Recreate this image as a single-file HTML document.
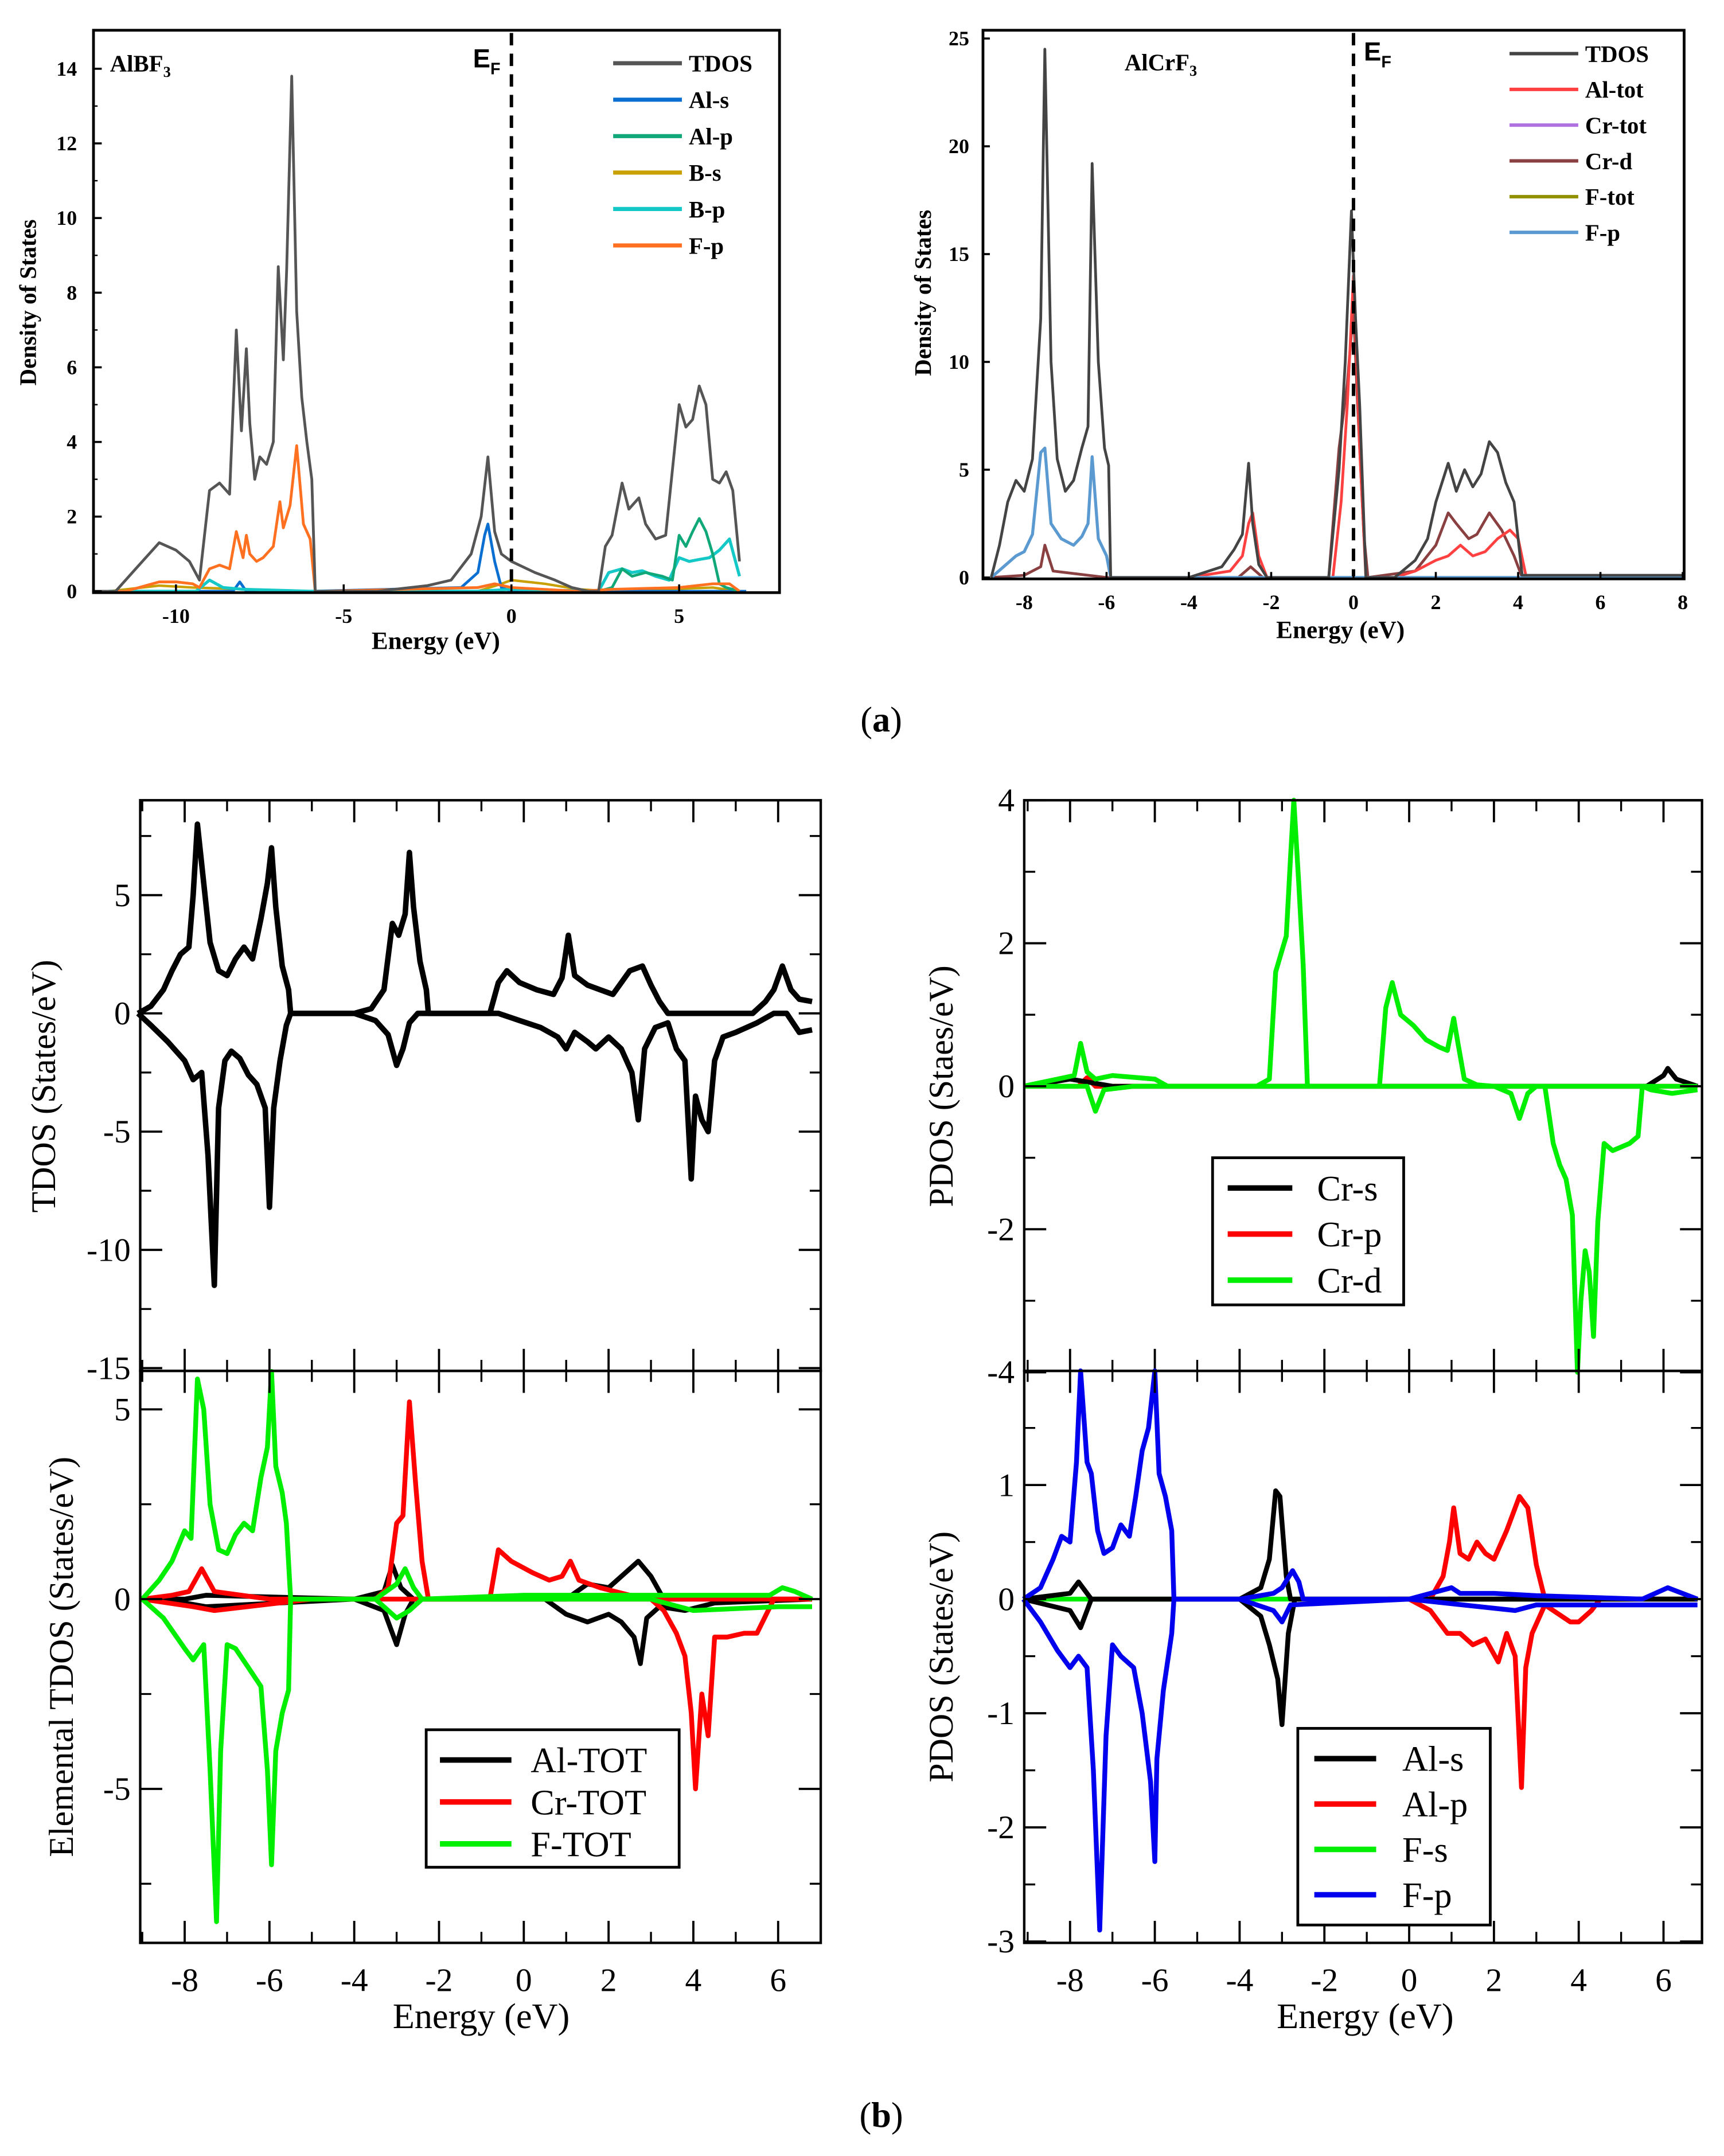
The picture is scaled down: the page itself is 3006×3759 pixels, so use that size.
<!DOCTYPE html>
<html><head><meta charset="utf-8"><style>
html,body{margin:0;padding:0;background:#fff;}
svg{display:block;}
.tb{font-family:"Liberation Serif",serif;font-weight:bold;}
.tr{font-family:"Liberation Serif",serif;}
</style></head><body>
<svg id="fig" width="3006" height="3759" viewBox="0 0 1254 1568" preserveAspectRatio="none" xmlns="http://www.w3.org/2000/svg">
<g id="root"></g>
</svg>
<script>
// ---------- data: panel (a) left, AlBF3 ----------
const a1E_tdos=[-12.5,-11.8,-11.2,-10.5,-10,-9.6,-9.3,-9.0,-8.7,-8.4,-8.2,-8.05,-7.9,-7.8,-7.65,-7.5,-7.3,-7.1,-6.95,-6.8,-6.7,-6.55,-6.4,-6.25,-6.1,-5.95,-5.85,-5.6,-4,-2.5,-1.8,-1.2,-0.9,-0.7,-0.5,-0.3,0,0.7,1.3,1.8,2.3,2.6,2.8,3.0,3.3,3.5,3.8,4.0,4.3,4.6,5.0,5.2,5.4,5.6,5.8,6.0,6.2,6.4,6.6,6.8];
const a1V_tdos=[0,0,0.6,1.3,1.1,0.8,0.3,2.7,2.9,2.6,7.0,4.3,6.5,4.5,3.0,3.6,3.4,4.0,8.7,6.2,8.6,13.8,7.5,5.2,4.0,3.0,0,0,0,0.15,0.3,1.0,2.0,3.6,1.6,1.0,0.8,0.5,0.3,0.1,0,0,1.2,1.5,2.9,2.2,2.5,1.8,1.4,1.5,5.0,4.4,4.6,5.5,5.0,3.0,2.9,3.2,2.7,0.8];
const a1E_fp=[-12.5,-11.5,-10.5,-10,-9.5,-9.3,-9.0,-8.7,-8.4,-8.2,-8.0,-7.9,-7.8,-7.6,-7.4,-7.1,-6.9,-6.8,-6.6,-6.4,-6.2,-6.0,-5.85,-5.6,-1,-0.5,0,2,3,5,6,6.5,6.8];
const a1V_fp=[0,0,0.25,0.25,0.2,0.1,0.6,0.7,0.6,1.6,0.9,1.5,1.0,0.8,0.9,1.2,2.4,1.7,2.3,3.9,1.8,1.4,0,0,0.1,0.2,0.1,0,0.05,0.1,0.2,0.2,0];
const a1E_als=[-12,-9,-8.3,-8.1,-7.9,-6,-1.5,-1.0,-0.8,-0.7,-0.5,-0.3,0,3,7];
const a1V_als=[0,0,0,0.25,0,0,0.1,0.5,1.5,1.8,0.8,0.1,0,0,0];
const a1E_bp=[-12,-9.4,-9.0,-8.6,-8,-6,-1,0,2.6,2.9,3.3,3.6,3.9,4.3,4.7,5.0,5.3,5.6,5.9,6.2,6.5,6.8];
const a1V_bp=[0,0,0.3,0.1,0.05,0,0,0.05,0,0.5,0.6,0.5,0.55,0.4,0.3,0.9,0.8,0.85,0.9,1.1,1.4,0.4];
const a1E_alp=[2.6,3.0,3.3,3.6,4.0,4.5,4.8,5.0,5.2,5.4,5.6,5.8,6.0,6.2,6.4,6.8];
const a1V_alp=[0,0.1,0.6,0.4,0.5,0.4,0.3,1.5,1.2,1.6,1.95,1.6,1.0,0.2,0.1,0];
const a1E_bs=[-12,-10.5,-9.5,-6,-1,-0.3,0,1,2,3,6,6.8];
const a1V_bs=[0,0.15,0.1,0,0,0.2,0.3,0.2,0.05,0,0.1,0];

// ---------- data: panel (a) right, AlCrF3 ----------
const a2E_tdos=[-8.8,-8.6,-8.4,-8.2,-8.0,-7.8,-7.6,-7.5,-7.35,-7.2,-7.0,-6.8,-6.6,-6.45,-6.35,-6.2,-6.05,-5.95,-5.9,-4,-3.2,-2.9,-2.7,-2.55,-2.45,-2.3,-2.1,-0.6,-0.35,-0.2,-0.05,0.05,0.15,0.3,1,1.5,1.8,2.0,2.3,2.5,2.7,2.9,3.1,3.3,3.5,3.7,3.9,4.1,8.0];
const a2V_tdos=[0,1.5,3.5,4.5,4.0,5.5,12,24.5,10,5.5,4.0,4.5,6.0,7,19.2,10,6,5.2,0,0,0.5,1.3,2.0,5.3,2.5,0.6,0,0,5,10,17,12,8,0,0,0.8,1.8,3.5,5.3,4.0,5.0,4.2,4.8,6.3,5.8,4.4,3.5,0.1,0.1];
const a2E_fp=[-8.8,-8.5,-8.2,-8.0,-7.8,-7.6,-7.5,-7.35,-7.1,-6.8,-6.6,-6.45,-6.35,-6.2,-6.0,-5.9,8];
const a2V_fp=[0,0.5,1.0,1.2,2.0,5.8,6.0,2.5,1.8,1.5,1.9,2.5,5.6,1.8,1.0,0,0];
const a2E_altot=[-4,-3,-2.7,-2.55,-2.45,-2.3,-2.1,-0.5,-0.3,-0.15,0,0.15,0.3,1,1.5,2.0,2.3,2.6,2.9,3.2,3.5,3.8,4.0,4.2];
const a2V_altot=[0,0.3,1.0,2.5,3.0,1.0,0,0,3.5,8,14,6,0,0,0.3,0.8,1.0,1.5,1.0,1.2,1.8,2.2,1.8,0];
const a2E_crd=[-8.8,-8,-7.6,-7.5,-7.3,-6,-2.8,-2.5,-2.2,-0.6,-0.35,-0.15,0,0.1,0.25,0.35,1.5,2.0,2.3,2.5,2.8,3.0,3.3,3.6,3.9,4.1];
const a2V_crd=[0,0.1,0.5,1.5,0.3,0,0,0.5,0,0,6,9,12.5,8,2,0,0.3,1.5,3.0,2.5,1.8,2.0,3.0,2.2,1.0,0];

// ---------- data: panel (b) TDOS ----------
const bE_up=[-9.1,-8.8,-8.5,-8.3,-8.1,-7.9,-7.8,-7.7,-7.55,-7.4,-7.2,-7.0,-6.8,-6.6,-6.4,-6.2,-6.05,-5.95,-5.85,-5.7,-5.55,-5.5,-4.0,-3.6,-3.3,-3.1,-2.95,-2.8,-2.7,-2.6,-2.45,-2.3,-2.25,-0.8,-0.6,-0.4,-0.1,0.3,0.7,0.9,1.05,1.2,1.5,1.8,2.1,2.5,2.8,3.0,3.2,3.4,5.4,5.7,5.9,6.1,6.3,6.5,6.8];
const bV_up=[0,0.3,1.0,1.8,2.5,2.8,5.0,8.0,5.5,3.0,1.8,1.6,2.3,2.8,2.3,4.0,5.5,7.0,4.5,2.0,1.0,0,0,0.2,1.0,3.8,3.3,4.2,6.8,4.5,2.2,1.0,0,0,1.3,1.8,1.3,1.0,0.8,1.5,3.3,1.6,1.2,1.0,0.8,1.8,2.0,1.2,0.5,0,0,0.5,1.0,2.0,1.0,0.6,0.5];
const bE_dn=[-9.1,-8.8,-8.4,-8.0,-7.8,-7.6,-7.45,-7.3,-7.2,-7.05,-6.9,-6.7,-6.5,-6.3,-6.1,-6.0,-5.9,-5.75,-5.6,-5.5,-4.0,-3.5,-3.2,-3.0,-2.85,-2.7,-2.5,-0.6,-0.1,0.4,0.8,1.0,1.2,1.5,1.7,2.0,2.3,2.55,2.7,2.85,3.1,3.4,3.6,3.8,3.95,4.05,4.2,4.35,4.5,4.7,5.0,5.5,5.9,6.2,6.5,6.8];
const bV_dn=[0,-0.5,-1.2,-2.0,-2.8,-2.5,-6.0,-11.5,-4.0,-2.0,-1.6,-1.9,-2.6,-3.0,-4.0,-8.2,-4.0,-2.0,-0.5,0,0,-0.3,-0.9,-2.2,-1.5,-0.4,0,0,-0.3,-0.6,-1.0,-1.5,-0.8,-1.2,-1.5,-1.0,-1.5,-2.5,-4.5,-1.5,-0.6,-0.4,-1.5,-2.0,-7.0,-3.5,-4.5,-5.0,-2.0,-1.0,-0.8,-0.4,0,0,-0.8,-0.7];

// ---------- data: panel (b) Elemental TDOS ----------
const eE_fup=[-9,-8.6,-8.3,-8.0,-7.85,-7.7,-7.55,-7.4,-7.2,-7.0,-6.8,-6.6,-6.4,-6.2,-6.05,-5.95,-5.85,-5.7,-5.6,-5.5,-3.5,-3.0,-2.8,-2.6,-2.4,0,3,5.8,6.1,6.4,6.8];
const eV_fup=[0,0.5,1.0,1.8,1.6,5.8,5.0,2.5,1.3,1.2,1.7,2.0,1.8,3.2,4.0,6.0,3.5,2.8,2.0,0,0,0.4,0.8,0.3,0,0.1,0.1,0.1,0.3,0.2,0];
const eE_fdn=[-9,-8.5,-8.0,-7.8,-7.55,-7.4,-7.25,-7.15,-7.0,-6.8,-6.5,-6.2,-6.05,-5.95,-5.85,-5.7,-5.55,-5.5,-3.5,-3.0,-2.7,-2.4,0,3,4,6,6.8];
const eV_fdn=[0,-0.5,-1.3,-1.6,-1.2,-4.5,-8.5,-4.0,-1.2,-1.3,-1.8,-2.3,-4.5,-7.0,-4.0,-3.0,-2.4,0,0,-0.5,-0.3,0,0,0,-0.3,-0.2,-0.2];
const eE_crup=[-9,-8.3,-7.9,-7.6,-7.3,-6,-3.5,-3.2,-3.0,-2.85,-2.7,-2.55,-2.4,-2.25,-0.8,-0.6,-0.3,0.2,0.6,0.9,1.1,1.3,1.8,2.5,3,6.8];
const eV_crup=[0,0.1,0.2,0.8,0.2,0,0,0.3,2.0,2.2,5.2,3.0,1.0,0,0,1.3,1.0,0.7,0.5,0.6,1.0,0.5,0.3,0.1,0,0];
const eE_crdn=[-9,-7.8,-7.3,-5,3.0,3.3,3.6,3.8,3.95,4.05,4.2,4.35,4.5,4.8,5.2,5.5,5.9,6.5,6.8];
const eV_crdn=[0,-0.2,-0.3,0,0,-0.3,-0.9,-1.5,-3.0,-5.0,-2.5,-3.6,-1.0,-1.0,-0.9,-0.9,0,0,0];
const eE_alup=[-9,-8,-7.5,-4,-3.3,-3.1,-2.9,-2.6,1,1.5,2.0,2.4,2.7,3.0,3.3,6.8];
const eV_alup=[0,0,0.1,0,0.2,0.9,0.3,0,0,0.4,0.3,0.7,1.0,0.6,0,0];
const eE_aldn=[-9,-8,-7.5,-4,-3.3,-3.0,-2.8,-2.6,0.5,1.0,1.5,2.0,2.3,2.6,2.75,2.9,3.2,3.8,4.5,6.8];
const eV_aldn=[0,-0.1,-0.2,0,-0.3,-1.2,-0.4,0,0,-0.4,-0.6,-0.4,-0.6,-1.0,-1.7,-0.5,-0.2,-0.3,-0.1,0];

// ---------- data: PDOS Cr ----------
const cE_dup=[-9.1,-8.3,-7.9,-7.75,-7.6,-7.4,-7.0,-6.0,-5.7,-3.6,-3.3,-3.15,-3.0,-2.9,-2.8,-2.72,-2.6,-2.5,-2.4,-0.7,-0.55,-0.4,-0.2,0.1,0.4,0.7,0.9,1.05,1.15,1.3,1.6,2.0,6.8];
const cV_dup=[0,0.1,0.15,0.6,0.2,0.1,0.15,0.1,0,0,0.1,1.6,1.9,2.1,3.2,4.0,2.8,1.7,0,0,1.1,1.45,1.0,0.85,0.65,0.55,0.5,0.95,0.6,0.1,0.02,0,0];
const cE_ddn=[-9.1,-7.6,-7.4,-7.2,-6.5,2.0,2.4,2.6,2.8,3.0,3.2,3.4,3.55,3.7,3.85,3.97,4.05,4.15,4.25,4.35,4.45,4.6,4.8,5.2,5.4,5.5,5.7,6.2,6.8];
const cV_ddn=[0,0,-0.35,-0.05,0,0,-0.1,-0.45,-0.1,0,0,-0.8,-1.1,-1.3,-1.8,-4.0,-3.0,-2.3,-2.6,-3.5,-1.9,-0.8,-0.9,-0.8,-0.7,0,-0.05,-0.1,-0.05];
const cE_s=[-9.1,-8.5,-8,-7.5,-7,5.6,6.0,6.1,6.3,6.8];
const cV_s=[0,0.05,0.1,0.05,0,0,0.15,0.25,0.1,0];
const cE_p=[-9.1,-7.8,-7.6,-7.4,6.8];
const cV_p=[0,0,0.12,0,0];

// ---------- data: PDOS Al/F ----------
const pE_fpup=[-9.1,-8.7,-8.4,-8.2,-8.0,-7.85,-7.75,-7.6,-7.5,-7.35,-7.2,-7.0,-6.8,-6.6,-6.45,-6.3,-6.15,-6.0,-5.9,-5.75,-5.6,-5.55,-4,-3.2,-3.0,-2.75,-2.6,-2.5,-2.3,0,1.0,1.2,2,3,5.5,6.1,6.8];
const pV_fpup=[0,0.1,0.35,0.55,0.5,1.2,2.0,1.2,1.1,0.6,0.4,0.45,0.65,0.55,0.9,1.3,1.5,2.0,1.1,0.9,0.6,0,0,0.05,0.1,0.25,0.15,0,0,0,0.1,0.05,0.05,0.03,0,0.1,0];
const pE_fpdn=[-9.1,-8.7,-8.3,-8.0,-7.8,-7.6,-7.45,-7.3,-7.15,-7.0,-6.8,-6.5,-6.3,-6.1,-6.0,-5.95,-5.8,-5.6,-5.55,-4,-3.2,-3.0,-2.8,0,2.5,3,6.8];
const pV_fpdn=[0,-0.2,-0.45,-0.6,-0.5,-0.6,-1.5,-2.9,-1.2,-0.4,-0.5,-0.6,-1.0,-1.6,-2.3,-1.4,-0.8,-0.3,0,0,-0.1,-0.2,-0.05,0,-0.1,-0.05,-0.05];
const pE_alsup=[-9.1,-8,-7.8,-7.5,-4,-3.5,-3.3,-3.15,-3.05,-2.9,-2.8,6.8];
const pV_alsup=[0,0.05,0.15,0,0,0.1,0.35,0.95,0.9,0.2,0,0];
const pE_alsdn=[-9.1,-8,-7.75,-7.5,-4,-3.5,-3.3,-3.1,-3.0,-2.85,-2.7,6.8];
const pV_alsdn=[0,-0.1,-0.25,0,0,-0.15,-0.4,-0.7,-1.1,-0.3,0,0];
const pE_alpup=[-0.5,0.5,0.8,0.95,1.05,1.2,1.4,1.6,1.8,2.0,2.3,2.6,2.8,3.0,3.2,6.8];
const pV_alpup=[0,0,0.2,0.5,0.8,0.4,0.35,0.5,0.4,0.35,0.6,0.9,0.8,0.3,0,0];
const pE_alpdn=[-0.5,0,0.5,0.9,1.2,1.5,1.8,2.1,2.3,2.5,2.65,2.75,2.9,3.2,3.8,4.0,4.3,4.5,6.8];
const pV_alpdn=[0,0,-0.1,-0.3,-0.3,-0.4,-0.35,-0.55,-0.3,-0.5,-1.65,-0.6,-0.3,-0.05,-0.2,-0.2,-0.1,0,0];
const pE_fs=[-9.1,6.8];
const pV_fs=[0,0];

// ---------- helpers ----------
const NS="http://www.w3.org/2000/svg";
const root=document.getElementById('root');
function mk(tag,attrs,parent){const e=document.createElementNS(NS,tag);for(const k in attrs)e.setAttribute(k,attrs[k]);(parent||root).appendChild(e);return e;}
function lin(d0,d1,p0,p1){return v=>p0+(v-d0)*(p1-p0)/(d1-d0);}
function series(xs,ys,X,Y,color,w,name){
  let d='';for(let i=0;i<xs.length;i++){d+=(i?'L':'M')+X(xs[i]).toFixed(1)+' '+Y(ys[i]).toFixed(1);}
  const p=mk('path',{d:d,fill:'none',stroke:color,'stroke-width':w,'stroke-linejoin':'round'});
  
  
  return p;
}
function txt(x,y,s,cls,size,anchor,name,extra){
  const t=mk('text',Object.assign({x:x,y:y,'font-size':size,'text-anchor':anchor||'middle',class:cls},extra||{}));
  t.textContent=s;
  
  
  return t;
}
function box(x0,y0,x1,y1,w,name){
  const r=mk('rect',{x:x0,y:y0,width:x1-x0,height:y1-y0,fill:'none',stroke:'#000','stroke-width':w});
  
  
}
function line(x1,y1,x2,y2,c,w,name,dash){
  const l=mk('line',{x1:x1,y1:y1,x2:x2,y2:y2,stroke:c,'stroke-width':w});
  if(dash)l.setAttribute('stroke-dasharray',dash);
  
  
}

// ================= (a) left =================
{
const X=lin(0,5,372,494), Y=lin(0,14,430,50);
const xt=[-10,-5,0,5], yt=[0,2,4,6,8,10,12,14];
series(a1E_bs,a1V_bs,X,Y,'#c8a000',1.8,'b-s-line');
series(a1E_als,a1V_als,X,Y,'#0a6fd0',2,'al-s-line');
series(a1E_bp,a1V_bp,X,Y,'#14c8c8',2.2,'b-p-line');
series(a1E_alp,a1V_alp,X,Y,'#10a878',2,'al-p-line');
series(a1E_fp,a1V_fp,X,Y,'#ff7020',2,'f-p-line');
series(a1E_tdos,a1V_tdos,X,Y,'#555',2,'tdos-line');
box(68,22,567,431,2,'plot-frame-albf3');
line(372,24,372,429,'#000',2.5,'fermi-level-line','9,6');
xt.forEach(v=>{line(X(v),431,X(v),425,'#000',1.5,'x-tick');txt(X(v),453,String(v),'tb',15,'middle','x-tick-label');});
yt.forEach(v=>{line(68,Y(v),74,Y(v),'#000',1.5,'y-tick');txt(56,Y(v)+5,String(v),'tb',15,'end','y-tick-label');});
[1,3,5,7,9,11,13].forEach(v=>line(68,Y(v),71,Y(v),'#000',1,'y-minor-tick'));
txt(317,472,'Energy (eV)','tb',18,'middle','x-axis-title');
txt(26,220,'Density of States','tb',17,'middle','y-axis-title',{transform:'rotate(-90 26 220)'});
const t=txt(80,52,'AlBF','tb',17,'start','compound-label');const s=mk('tspan',{'font-size':11,dy:4},t);s.textContent='3';
const ef=txt(344,49,'E','tb',19,'start','fermi-label',{style:'font-family:"Liberation Sans",sans-serif'});const s2=mk('tspan',{'font-size':12,dy:5},ef);s2.textContent='F';
const lg=[['TDOS','#555'],['Al-s','#0a6fd0'],['Al-p','#10a878'],['B-s','#c8a000'],['B-p','#14c8c8'],['F-p','#ff7020']];
lg.forEach((e,i)=>{const y=46+i*26.5;line(446,y,496,y,e[1],3,'legend-swatch');txt(501,y+6,e[0],'tb',17,'start','legend-entry');});
}
// ================= (a) right =================
{
const X=lin(0,8,984.5,1224), Y=lin(0,25,420,28);
const xt=[-8,-6,-4,-2,0,2,4,6,8], yt=[0,5,10,15,20,25];
series(a2E_crd,a2V_crd,X,Y,'#8a4040',2,'cr-d-line');
series(a2E_altot,a2V_altot,X,Y,'#ff4040',2,'al-tot-line');
series(a2E_fp,a2V_fp,X,Y,'#5a9ad0',2.2,'f-p-line');
series(a2E_tdos,a2V_tdos,X,Y,'#444',2,'tdos-line');
box(715,22,1225,421,2,'plot-frame-alcrf3');
line(984.5,24,984.5,419,'#000',2.5,'fermi-level-line','9,6');
xt.forEach(v=>{line(X(v),421,X(v),416,'#000',1.5,'x-tick');txt(X(v),443,String(v),'tb',15,'middle','x-tick-label');});
yt.forEach(v=>{line(715,Y(v),720,Y(v),'#000',1.5,'y-tick');txt(705,Y(v)+5,String(v),'tb',15,'end','y-tick-label');});
txt(975,464,'Energy (eV)','tb',18,'middle','x-axis-title');
txt(677,213,'Density of States','tb',17,'middle','y-axis-title',{transform:'rotate(-90 677 213)'});
const t=txt(818,51,'AlCrF','tb',17,'start','compound-label');const s=mk('tspan',{'font-size':11,dy:4},t);s.textContent='3';
const ef=txt(992,44,'E','tb',19,'start','fermi-label',{style:'font-family:"Liberation Sans",sans-serif'});const s2=mk('tspan',{'font-size':12,dy:5},ef);s2.textContent='F';
const lg=[['TDOS','#444'],['Al-tot','#ff4040'],['Cr-tot','#b070e0'],['Cr-d','#8a4040'],['F-tot','#909000'],['F-p','#5a9ad0']];
lg.forEach((e,i)=>{const y=39+i*26;line(1098,y,1148,y,e[1],2.5,'legend-swatch');txt(1153,y+6,e[0],'tb',17,'start','legend-entry');});
}
txt(641,532,'(a)','tr',26,'middle','panel-a-label').innerHTML='(<tspan font-weight="bold">a</tspan>)';
txt(641,1547,'(b)','tr',26,'middle','panel-b-label').innerHTML='(<tspan font-weight="bold">b</tspan>)';

// ================= (b) frames helper =================
function xmTicks(X,x0,x1,yb,yt,withLabels){
  const maj=[-8,-6,-4,-2,0,2,4,6], mnr=[-9,-7,-5,-3,-1,1,3,5];
  maj.forEach(v=>{line(X(v),yb,X(v),yb-16,'#000',1.6,'x-tick');line(X(v),yt,X(v),yt+16,'#000',1.6,'x-tick-top');
    if(withLabels)txt(X(v),yb+35,String(v),'tr',24,'middle','x-tick-label');});
  mnr.forEach(v=>{line(X(v),yb,X(v),yb-8,'#000',1.4,'x-minor-tick');line(X(v),yt,X(v),yt+8,'#000',1.4,'x-minor-tick-top');});
}
function ymTicks(Y,x0,x1,maj,mnr,labels,lx){
  maj.forEach((v,i)=>{line(x0,Y(v),x0+16,Y(v),'#000',1.6,'y-tick');line(x1,Y(v),x1-16,Y(v),'#000',1.6,'y-tick-right');
    if(labels[i]!==null)txt(lx,Y(v)+8,labels[i],'tr',24,'end','y-tick-label');});
  mnr.forEach(v=>{line(x0,Y(v),x0+8,Y(v),'#000',1.4,'y-minor-tick');line(x1,Y(v),x1-8,Y(v),'#000',1.4,'y-minor-tick-right');});
}
function legendBox(x,y,w,h,items,lx0,lx1,tx,dy){
  const r=mk('rect',{x:x,y:y,width:w,height:h,fill:'#fff',stroke:'#000','stroke-width':2});
  
  
  items.forEach((e,i)=>{const yy=y+22+i*dy;line(lx0,yy,lx1,yy,e[1],4,'legend-swatch');txt(tx,yy+9,e[0],'tr',26,'start','legend-entry');});
}

// ================= (b) left top: TDOS =================
{
const X=lin(0,6,381,566), Y=lin(0,5,737,651);
series(bE_up,bV_up,X,Y,'#000',4,'tdos-spin-up');
series(bE_dn,bV_dn,X,Y,'#000',4,'tdos-spin-down');
box(102,582,597,997,1.8,'plot-frame-tdos');
xmTicks(X,102,597,997,582,false);
ymTicks(Y,102,597,[5,0,-5,-10,-15],[7.5,2.5,-2.5,-7.5,-12.5],['5','0','-5','-10','-15'],95);
txt(40,790,'TDOS (States/eV)','tr',25,'middle','y-axis-title',{transform:'rotate(-90 40 790)'});
}
// ================= (b) left bottom: Elemental =================
{
const X=lin(0,6,381,566), Y=lin(0,5,1163,1025);
series(eE_alup,eV_alup,X,Y,'#000',3.5,'al-tot-up');
series(eE_aldn,eV_aldn,X,Y,'#000',3.5,'al-tot-down');
series(eE_crup,eV_crup,X,Y,'#ff0000',3.5,'cr-tot-up');
series(eE_crdn,eV_crdn,X,Y,'#ff0000',3.5,'cr-tot-down');
series(eE_fup,eV_fup,X,Y,'#00ee00',3.5,'f-tot-up');
series(eE_fdn,eV_fdn,X,Y,'#00ee00',3.5,'f-tot-down');
box(102,997,597,1413,1.8,'plot-frame-elemental');
xmTicks(X,102,597,1413,997,true);
ymTicks(Y,102,597,[5,0,-5],[2.5,-2.5,-7.5],['5','0','-5'],95);
txt(350,1475,'Energy (eV)','tr',26,'middle','x-axis-title');
txt(53,1205,'Elemental TDOS (States/eV)','tr',25,'middle','y-axis-title',{transform:'rotate(-90 53 1205)'});
legendBox(310,1258,184,100,[['Al-TOT','#000'],['Cr-TOT','#ff0000'],['F-TOT','#00ee00']],320,372,386,30.5);
}
// ================= (b) right top: PDOS Cr =================
{
const X=lin(0,6,1025,1210), Y=lin(0,2,790,686);
series(cE_p,cV_p,X,Y,'#ff0000',3.5,'cr-p-line');
series(cE_s,cV_s,X,Y,'#000',3.5,'cr-s-line');
series(cE_dup,cV_dup,X,Y,'#00ee00',3.5,'cr-d-up');
series(cE_ddn,cV_ddn,X,Y,'#00ee00',3.5,'cr-d-down');
box(745,582,1238,997,1.8,'plot-frame-pdos-cr');
xmTicks(X,745,1238,997,582,false);
ymTicks(Y,745,1238,[4,2,0,-2,-4],[3,1,-1,-3],['4','2','0','-2','-4'],738);
txt(693,790,'PDOS (Staes/eV)','tr',25,'middle','y-axis-title',{transform:'rotate(-90 693 790)'});
legendBox(882,842,139,107,[['Cr-s','#000'],['Cr-p','#ff0000'],['Cr-d','#00ee00']],893,940,958,33.5);
}
// ================= (b) right bottom: PDOS Al/F =================
{
const X=lin(0,6,1025,1210), Y=lin(0,1,1163,1080);
series(pE_alpup,pV_alpup,X,Y,'#ff0000',3.5,'al-p-up');
series(pE_alpdn,pV_alpdn,X,Y,'#ff0000',3.5,'al-p-down');
series(pE_fs,pV_fs,X,Y,'#00ee00',3.5,'f-s-line');
series(pE_alsup,pV_alsup,X,Y,'#000',3.5,'al-s-up');
series(pE_alsdn,pV_alsdn,X,Y,'#000',3.5,'al-s-down');
series(pE_fpup,pV_fpup,X,Y,'#0000ee',3.5,'f-p-up');
series(pE_fpdn,pV_fpdn,X,Y,'#0000ee',3.5,'f-p-down');
box(745,997,1238,1413,1.8,'plot-frame-pdos-alf');
xmTicks(X,745,1238,1413,997,true);
ymTicks(Y,745,1238,[2,1,0,-1,-2,-3],[1.5,0.5,-0.5,-1.5,-2.5],[null,'1','0','-1','-2','-3'],738);
txt(993,1475,'Energy (eV)','tr',26,'middle','x-axis-title');
txt(693,1205,'PDOS (States/eV)','tr',25,'middle','y-axis-title',{transform:'rotate(-90 693 1205)'});
legendBox(944,1257,140,143,[['Al-s','#000'],['Al-p','#ff0000'],['F-s','#00ee00'],['F-p','#0000ee']],956,1001,1020,33);
}
</script>
</body></html>
